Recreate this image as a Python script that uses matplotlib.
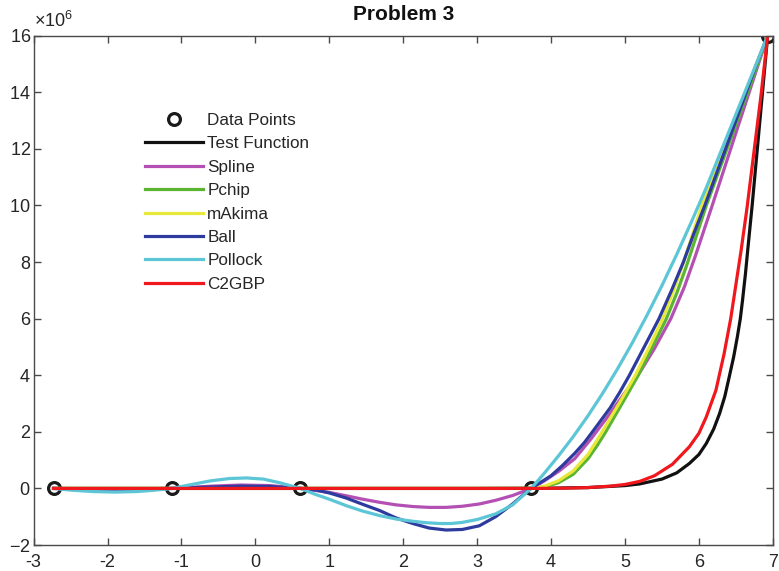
import matplotlib
matplotlib.use("Agg")
import matplotlib.pyplot as plt
from matplotlib.ticker import ScalarFormatter

plt.rcParams['font.family'] = ['Liberation Sans', 'DejaVu Sans']
plt.rcParams['axes.unicode_minus'] = False
plt.rcParams['mathtext.fontset'] = 'custom'
plt.rcParams['mathtext.rm'] = 'Liberation Sans'
plt.rcParams['mathtext.it'] = 'Liberation Sans:italic'
plt.rcParams['mathtext.bf'] = 'Liberation Sans:bold'

# Data points (y in units of 1e6)
pts_x = [-2.73, -1.13, 0.61, 3.73, 6.93]
pts_y = [0.0, 0.0, 0.0, 0.0, 16.0]

# Test function
test_x = [-2.73, 3.0, 4.0, 4.5, 5.0, 5.2, 5.5, 5.7, 5.87, 6.0, 6.1, 6.2, 6.28, 6.35, 6.41, 6.47, 6.52,
          6.56, 6.59, 6.63, 6.66, 6.72, 6.79, 6.86, 6.93]
test_y = [0.0, 0.0, 0.01, 0.03, 0.1, 0.16, 0.33, 0.55, 0.88, 1.2, 1.59, 2.1, 2.65, 3.25, 3.94, 4.65, 5.36,
          6.0, 6.65, 7.6, 8.42, 10.0, 12.0, 14.0, 16.0]

# Spline
spl_x = [-2.73, -2.2, -1.6, -1.13, -0.6, -0.2, 0.2, 0.61, 1.0, 1.23, 1.45, 1.68, 1.9, 2.13, 2.35, 2.58, 2.8,
         3.03, 3.25, 3.48, 3.73, 3.9, 4.1, 4.32, 4.54, 4.77, 4.99, 5.2, 5.4, 5.62, 5.8, 5.95, 6.18, 6.43, 6.68,
         6.93]
spl_y = [0.0, -0.03, -0.03, 0.0, 0.08, 0.12, 0.1, 0.0, -0.14, -0.26, -0.38, -0.49, -0.58, -0.64, -0.67, -0.67,
         -0.63, -0.55, -0.42, -0.25, 0.0, 0.25, 0.6, 1.05, 1.75, 2.55, 3.35, 4.1, 4.95, 6.0, 7.1, 8.2, 10.0,
         12.0, 14.0, 16.0]

# Pchip
pch_x = [-2.73, 3.73, 3.9, 4.1, 4.3, 4.5, 4.62, 4.74, 4.95, 5.18, 5.37, 5.56, 5.7, 5.83, 6.1, 6.38, 6.66, 6.93]
pch_y = [0.0, 0.0, 0.05, 0.2, 0.5, 1.05, 1.5, 2.0, 2.95, 4.0, 5.0, 6.0, 6.9, 7.85, 10.0, 12.0, 14.0, 16.0]

# mAkima
mak_x = [-2.73, 3.73, 3.9, 4.1, 4.3, 4.5, 4.68, 4.92, 5.14, 5.33, 5.51, 5.65, 5.78, 6.04, 6.33, 6.63, 6.93]
mak_y = [0.0, 0.0, 0.07, 0.27, 0.62, 1.2, 1.95, 3.0, 4.0, 5.0, 6.0, 6.95, 7.9, 10.0, 12.0, 14.0, 16.0]

# Ball
ball_x = [-2.73, -2.2, -1.6, -1.13, -0.6, -0.2, 0.2, 0.61, 0.83, 1.0, 1.23, 1.45, 1.68, 1.9, 2.13, 2.35, 2.58,
          2.8, 3.03, 3.25, 3.48, 3.6, 3.73, 3.85, 4.0, 4.15, 4.32, 4.45, 4.56, 4.8, 4.93, 5.06, 5.25, 5.46,
          5.63, 5.79, 5.93, 6.08, 6.22, 6.36, 6.5, 6.64, 6.78, 6.93]
ball_y = [0.0, -0.02, -0.02, 0.0, 0.05, 0.08, 0.07, 0.0, -0.06, -0.16, -0.34, -0.56, -0.78, -1.04, -1.24, -1.4,
          -1.47, -1.45, -1.32, -1.0, -0.55, -0.28, 0.0, 0.2, 0.45, 0.8, 1.24, 1.62, 2.0, 2.85, 3.4, 4.0, 4.95,
          6.0, 7.0, 8.0, 9.0, 10.0, 11.0, 12.0, 13.0, 14.0, 15.0, 16.0]

# Pollock
pol_x = [-2.73, -2.5, -2.2, -1.9, -1.6, -1.35, -1.13, -0.9, -0.6, -0.35, -0.12, 0.11, 0.33, 0.61, 0.8, 1.0,
         1.23, 1.45, 1.68, 1.9, 2.13, 2.3, 2.49, 2.65, 2.8, 3.0, 3.25, 3.48, 3.73, 3.9, 4.1, 4.3, 4.5, 4.7,
         4.9, 5.1, 5.3, 5.5, 5.7, 5.9, 6.1, 6.5, 6.93]
pol_y = [0.0, -0.06, -0.11, -0.13, -0.11, -0.06, 0.0, 0.12, 0.27, 0.35, 0.37, 0.33, 0.2, 0.0, -0.2, -0.38,
         -0.61, -0.8, -0.96, -1.08, -1.16, -1.21, -1.24, -1.24, -1.2, -1.1, -0.9, -0.58, 0.0, 0.51, 1.15, 1.83,
         2.57, 3.37, 4.23, 5.15, 6.13, 7.17, 8.27, 9.43, 10.63, 13.22, 16.0]

# C2GBP
c2_x = [-2.73, 3.73, 4.2, 4.5, 4.8, 5.0, 5.2, 5.4, 5.64, 5.87, 6.0, 6.1, 6.23, 6.34, 6.43, 6.5, 6.57, 6.65,
        6.74, 6.84, 6.93]
c2_y = [0.0, 0.0, 0.01, 0.03, 0.08, 0.14, 0.25, 0.45, 0.85, 1.47, 1.95, 2.53, 3.47, 4.75, 6.0, 7.2, 8.4, 9.9,
        11.8, 13.9, 16.0]

xticks = [-3, -2, -1, 0, 1, 2, 3, 4, 5, 6, 7]
yticks = [-2, 0, 2, 4, 6, 8, 10, 12, 14, 16]

S = 1e6


class Fixed6(ScalarFormatter):
    def _set_order_of_magnitude(self):
        self.orderOfMagnitude = 6


fig = plt.figure(figsize=(7.79, 5.71), dpi=100)
ax = fig.add_axes([0.0431, 0.0455, 0.949, 0.892])

lw = 2.3
ax.plot(pts_x, [v * S for v in pts_y], 'o', mfc='none', mec='#1a1a1a', ms=8.5, mew=2.3, label='Data Points')
ax.plot(test_x, [v * S for v in test_y], color='#111111', lw=lw, label='Test Function')
ax.plot(spl_x, [v * S for v in spl_y], color='#B450B4', lw=lw, label='Spline')
ax.plot(pch_x, [v * S for v in pch_y], color='#5BB531', lw=lw, label='Pchip')
ax.plot(mak_x, [v * S for v in mak_y], color='#E8E83A', lw=lw, label='mAkima')
ax.plot(ball_x, [v * S for v in ball_y], color='#2E3B9E', lw=lw, label='Ball')
ax.plot(pol_x, [v * S for v in pol_y], color='#5CC6D6', lw=lw, label='Pollock')
ax.plot(c2_x, [v * S for v in c2_y], color='#F0181D', lw=lw, label='C2GBP')

ax.set_xlim(-3, 7)
ax.set_ylim(-2 * S, 16 * S)
ax.set_xticks(xticks)
ax.set_yticks([v * S for v in yticks])
fmt = Fixed6(useMathText=True)
ax.yaxis.set_major_formatter(fmt)
ax.yaxis.get_offset_text().set_visible(False)
ax.text(0.0, 1.0 + 8.5 / 509.5, r'$\times$10$^{6}$', transform=ax.transAxes, ha='left', va='baseline',
        fontsize=13, color='#262626')

for sp in ax.spines.values():
    sp.set_color('#4a4a4a')
    sp.set_linewidth(1.0)
ax.tick_params(direction='in', top=True, right=True, length=5, width=1.0, colors='#4a4a4a',
               labelcolor='#262626', labelsize=13)
ax.tick_params(axis='x', pad=6.5)
ax.tick_params(axis='y', pad=2)
ax.set_title('Problem 3', fontsize=15, fontweight='bold', color='#111111', pad=11)

leg = ax.legend(loc='upper left', bbox_to_anchor=(0.1505, 0.848), frameon=False, fontsize=12.3,
                handlelength=3.4, handletextpad=0.25, labelspacing=0.49, borderaxespad=0, borderpad=0)
for t in leg.get_texts():
    t.set_color('#262626')

fig.savefig('out.png', dpi=100)
